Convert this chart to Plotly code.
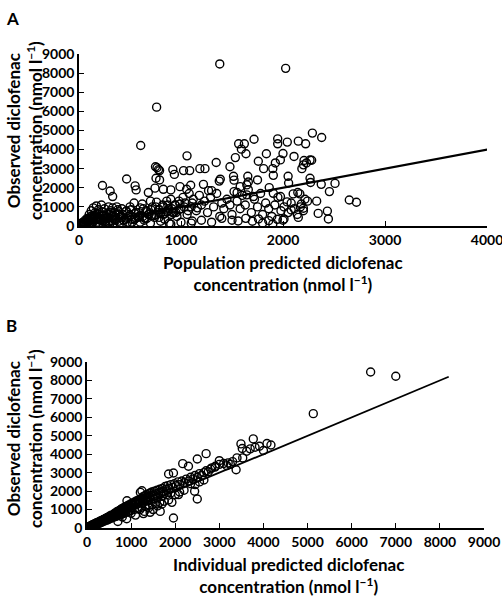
import plotly.graph_objects as go

# ---------------- Panel A: population predicted vs observed ----------------
pop_pred = [
    1380, 2026, 761, 605, 2288, 2379, 1948, 1716, 1948, 2042, 2150, 2222, 1565, 1621,
    1592, 1637, 1059, 1837, 2000, 2108, 1533, 1758, 1974, 1925, 1345, 2281, 2206,
    750, 765, 780, 755, 790, 920, 935, 1025, 1085, 1185, 1235, 1375, 1385, 1480,
    1515, 1520, 1655, 1660, 1645, 1810, 1900, 1905, 2050, 2055, 2185, 2200, 2230,
    2265, 2265, 2270, 2375, 2455, 2510, 2650, 2720, 2330, 2345, 2435, 2445, 2150,
    2080, 2010, 1945, 1760, 1860, 1560, 1635, 1110, 885, 790, 467, 230, 305, 330,
    550, 560, 680, 745, 827, 900, 990, 1055, 1095, 1220, 1270, 1300, 1580, 1550,
    1645, 1710, 1750, 1865, 1905, 1975, 2040, 2100, 2145, 2165, 2215, 2180, 2200,
    20, 30, 40, 50, 60, 70, 80, 90, 100, 110, 120, 130, 140, 150, 160, 170, 180,
    190, 200, 210, 220, 230, 240, 250, 260, 270, 280, 290, 300, 310, 320, 330, 340,
    350, 360, 370, 380, 390, 400, 420, 440, 460, 480, 500, 520, 540, 560, 580, 600,
    620, 640, 660, 680, 700, 720, 740, 760, 780, 800, 820, 840, 860, 880, 900, 920,
    940, 960, 980, 1000, 1020, 1040, 1060, 1080, 1100, 1120, 1150, 1180, 1200, 1230,
    1260, 1290, 1320, 1350, 1380, 1400, 1420, 1450, 1480, 1500, 1520, 1550, 1580,
    1600, 1630, 1660, 1690, 1720, 1750, 1780, 1800, 1830, 1860, 1890, 1920, 1950,
    1980, 2010, 2050, 2080, 2110, 2140, 2170, 2200, 2240,
    100, 200, 300, 400, 500, 600, 700, 800, 900, 1000, 1100, 1200, 1300, 1400, 1500,
    1700, 1800, 1900, 2000,
    60, 90, 130, 160, 190, 230, 260, 290, 330, 360, 390, 430, 470, 510, 550, 590,
    630, 670, 710, 750, 790, 830, 870, 910, 950, 990, 1030, 1070, 1110, 1160,
    45, 85, 115, 145, 175, 205, 245, 275, 315, 345, 385, 425, 465, 505, 545, 585,
    625, 665, 705, 745, 785, 825, 865, 905, 945,
    35, 55, 75, 95, 125, 155, 185, 215, 250, 285, 320, 355, 395, 435, 475, 515,
    555, 600, 645, 690, 735, 780, 830, 880, 930, 980,
]
obs_a = [
    8480, 8250, 6220, 4210, 4860, 4630, 4560, 4540, 4300, 4390, 4440, 4300, 4300, 4300,
    4020, 3780, 3670, 3780, 3790, 3640, 3580, 3390, 3460, 3300, 3320, 3440, 3430,
    3100, 3050, 2950, 2500, 2900, 2950, 2700, 2900, 2900, 3000, 3000, 2350, 2450, 3100,
    2600, 2400, 2600, 2300, 2150, 3000, 3000, 2650, 2600, 2250, 3000, 3200, 3300,
    3450, 2500, 2280, 2180, 1800, 2230, 1360, 1240, 1300, 660, 780, 370, 450,
    840, 370, 350, 370, 280, 260, 400, 260, 140, 2410, 2460, 2120, 1830, 1540,
    2100, 1890, 1750, 1980, 1920, 1890, 2060, 1920, 2130, 2180, 1850, 1850, 2060, 1750,
    1630, 1540, 2410, 2010, 1710, 1540, 1260, 1680, 1750, 1680, 1400, 1150, 930,
    150, 80, 200, 50, 300, 120, 400, 250, 600, 180, 800, 350, 950, 500, 700, 1050, 200,
    850, 600, 400, 1100, 750, 300, 900, 150, 650, 450, 1000, 250, 800, 550, 950, 150,
    700, 400, 1000, 850, 250, 600, 900, 300, 750, 500, 1000, 200, 1200, 700, 450, 950,
    1150, 300, 800, 600, 1300, 1000, 450, 1250, 850, 650, 1100, 350, 1300, 900, 1400, 700,
    1100, 500, 1300, 900, 1500, 1200, 600, 1700, 1000, 1400, 800, 1600, 1100, 1300,
    700, 1500, 1000, 1700, 500, 1200, 900, 1400, 1100, 600, 1800, 1300, 900,
    1600, 1100, 1900, 700, 1400, 1000, 1700, 600, 1200, 900, 500, 1100, 1500,
    800, 1000, 700, 1200, 900, 600, 1000, 800, 1300,
    50, 100, 80, 150, 100, 200, 150, 250, 100, 200, 150, 300, 200, 400, 300,
    250, 150, 100, 300,
    100, 300, 200, 450, 350, 550, 250, 700, 500, 300, 750, 600, 400, 850, 650, 500,
    900, 750, 550, 1000, 850, 650, 1100, 900, 700, 1150, 1000, 800, 1200, 950,
    30, 200, 500, 250, 650, 300, 550, 400, 700, 350, 600, 450, 800, 550, 350, 700,
    500, 400, 850, 600, 450, 1000, 750, 600, 1100,
    60, 150, 250, 350, 450, 550, 400, 300, 200, 150, 250, 350, 450, 300, 200, 350,
    450, 550, 400, 650, 550, 700, 600, 800, 700, 850,
]

# ---------------- Panel B: individual predicted vs observed ----------------
ind_pred = [
    6430, 7000, 5130, 3770, 3490, 3520, 3620, 3700, 3810, 3910, 4000, 4080, 4170,
    3400, 3530, 2700, 2500, 2300, 2170, 1850, 1960, 3000, 3200, 3170, 3380, 2830, 2910,
    2500, 2440, 1960, 1925, 1660, 1430, 1280, 2075, 1210, 1245, 906,
    10, 30, 50, 70, 90, 110, 130, 150, 170, 190, 210, 230, 250, 270, 290, 310, 330,
    350, 370, 390, 410, 430, 450, 470, 490, 510, 530, 550, 570, 590, 610, 630, 650,
    670, 690, 710, 730, 750, 770, 790, 810, 830, 850, 870, 890, 910, 930, 950, 970,
    990, 1010, 1030, 1050, 1070, 1090, 1110, 1130, 1150, 1170, 1190, 1210, 1230, 1250,
    1270, 1290, 1310, 1330, 1350, 1370, 1390, 1410, 1430, 1450, 1470, 1500, 1530, 1560,
    1590, 1620, 1650, 1680, 1710, 1740, 1770, 1800, 1830, 1860, 1900, 1940, 1980, 2020,
    2060, 2100, 2150, 2200, 2250, 2300, 2350, 2400, 2450, 2500, 2550, 2600, 2650, 2700,
    2750, 2800, 2900, 3000, 3100, 3250, 3300,
    700, 900, 1100, 1300, 1500, 800, 1000, 1200, 1400, 1600, 1700,
    20, 40, 60, 80, 100, 120, 140, 160, 180, 200, 220, 240, 260, 280, 300, 320, 340,
    360, 380, 400, 420, 440, 460, 480, 500, 520, 540, 560, 580, 600, 620, 640, 660,
    680, 700, 720, 740, 760, 780, 800, 820, 840, 860, 880, 900, 920, 940, 960, 980,
    1000, 1040, 1080, 1120, 1160, 1200, 1240, 1280, 1320, 1360, 1400, 1440, 1480,
    1520, 1560, 1600, 1650, 1700, 1750, 1800, 1850, 1900, 2000, 2100, 2200, 2350,
    2450, 2550, 2650,
]
obs_b = [
    8460, 8230, 6200, 4830, 4560, 4310, 4160, 4290, 4380, 4430, 4200, 4580, 4500,
    3800, 3800, 4030, 3740, 3350, 3490, 2930, 2980, 3650, 3530, 3380, 3160, 3260, 3350,
    1570, 1990, 540, 1390, 900, 850, 780, 1810, 1930, 2020, 1480,
    20, 50, 80, 60, 130, 100, 180, 120, 220, 200, 260, 210, 300, 330, 280, 380, 340,
    420, 450, 400, 500, 480, 560, 520, 600, 640, 580, 700, 680, 620, 760, 800, 700,
    850, 900, 780, 950, 880, 1000, 1050, 920, 1100, 1000, 1150, 1080, 1200, 1050, 1250, 1180,
    1300, 1100, 1350, 1250, 1400, 1300, 1450, 1350, 1500, 1400, 1550, 1450, 1600, 1500,
    1700, 1550, 1750, 1600, 1800, 1650, 1850, 1700, 1900, 1750, 1950, 1800, 2000, 1850,
    2050, 1900, 2100, 1950, 2150, 2000, 2250, 2100, 2300, 2150, 2350, 2200, 2400, 2300,
    2500, 2350, 2550, 2450, 2650, 2550, 2750, 2650, 2850, 2750, 2950, 2850, 3000, 3100,
    3050, 3200, 3300, 3450, 3500, 3450, 3600,
    350, 500, 700, 900, 1000, 600, 800, 1000, 1100, 1200, 1300,
    40, 30, 90, 70, 140, 110, 190, 150, 230, 180, 290, 240, 310, 260, 370, 300, 410,
    340, 460, 390, 490, 430, 540, 450, 590, 510, 640, 540, 680, 580, 720, 620, 760,
    650, 810, 690, 850, 720, 900, 760, 950, 800, 1000, 840, 1050, 880, 1100, 910, 1160,
    950, 1220, 1010, 1280, 1060, 1340, 1120, 1400, 1170, 1460, 1220, 1520, 1270,
    1580, 1330, 1650, 1380, 1720, 1450, 1800, 1520, 1900, 1800, 1950, 2050, 2400,
    2350, 2500, 2600,
]

# tick labels
ticks_a_x = [0, 1000, 2000, 3000, 4000]
ticks_9000 = [0, 1000, 2000, 3000, 4000, 5000, 6000, 7000, 8000, 9000]

# identity lines
line_a_x = [0, 4050]
line_b_x = [0, 8200]

FONT = "Lato, 'Open Sans', sans-serif"

fig = go.Figure()

mk = dict(symbol="circle-open", size=8, color="black", line=dict(width=1.4, color="black"))

fig.add_trace(go.Scatter(x=pop_pred, y=obs_a, mode="markers", marker=mk,
                         xaxis="x", yaxis="y", showlegend=False, hoverinfo="skip"))
fig.add_trace(go.Scatter(x=line_a_x, y=line_a_x, mode="lines",
                         line=dict(color="black", width=2.2),
                         xaxis="x", yaxis="y", showlegend=False, hoverinfo="skip"))
fig.add_trace(go.Scatter(x=ind_pred, y=obs_b, mode="markers", marker=mk,
                         xaxis="x2", yaxis="y2", showlegend=False, hoverinfo="skip"))
fig.add_trace(go.Scatter(x=line_b_x, y=line_b_x, mode="lines",
                         line=dict(color="black", width=1.8),
                         xaxis="x2", yaxis="y2", showlegend=False, hoverinfo="skip"))

W, H = 502, 597

def px_x(p):
    return p / W

def px_y(p):
    return 1 - p / H

def bold(vals):
    return ["<b>%d</b>" % v for v in vals]

tickfont = dict(family=FONT, size=14, color="black")
common = dict(showgrid=False, zeroline=False, showline=True, linecolor="black",
              linewidth=1.5, ticks="inside", ticklen=5, tickcolor="black",
              tickwidth=1.2, tickfont=tickfont, automargin=False, fixedrange=True,
              ticklabeloverflow="allow")

fig.update_layout(
    template="none",
    width=W, height=H,
    margin=dict(l=0, r=0, t=0, b=0, pad=0),
    paper_bgcolor="white", plot_bgcolor="white",
    xaxis=dict(domain=[px_x(79), px_x(487)], range=[0, 4000], tickvals=ticks_a_x,
               ticktext=bold(ticks_a_x), anchor="y", **common),
    yaxis=dict(domain=[px_y(226), px_y(54)], range=[0, 9000],
               tickvals=ticks_9000, ticktext=bold(ticks_9000), anchor="x", **common),
    xaxis2=dict(domain=[px_x(87), px_x(484)], range=[0, 9000],
                tickvals=ticks_9000, ticktext=bold(ticks_9000), anchor="y2", **common),
    yaxis2=dict(domain=[px_y(528), px_y(362)], range=[0, 9000],
                tickvals=ticks_9000, ticktext=bold(ticks_9000), anchor="x2", **common),
)

tfont = dict(family=FONT, size=17, color="black")
ann = [
    dict(text="<b>A</b>", x=px_x(4), y=px_y(6), xanchor="left", yanchor="top",
         font=dict(family=FONT, size=17, color="black")),
    dict(text="<b>B</b>", x=px_x(4), y=px_y(313), xanchor="left", yanchor="top",
         font=dict(family=FONT, size=17, color="black")),
    dict(text="<b>Population predicted diclofenac<br>concentration (nmol l<sup>−1</sup>)</b>",
         x=px_x(283), y=px_y(273), xanchor="center", yanchor="middle", font=tfont),
    dict(text="<b>Observed diclofenac<br>concentration (nmol l<sup>−1</sup>)</b>",
         x=px_x(24), y=px_y(131), xanchor="center", yanchor="middle", textangle=-90,
         font=tfont),
    dict(text="<b>Individual predicted diclofenac<br>concentration (nmol l<sup>−1</sup>)</b>",
         x=px_x(288), y=px_y(575), xanchor="center", yanchor="middle", font=tfont),
    dict(text="<b>Observed diclofenac<br>concentration (nmol l<sup>−1</sup>)</b>",
         x=px_x(24), y=px_y(439), xanchor="center", yanchor="middle", textangle=-90,
         font=tfont),
]
for a in ann:
    a.update(xref="paper", yref="paper", showarrow=False)
fig.update_layout(annotations=ann)

fig.write_html("out.html", config={"displayModeBar": False},
               post_script="document.body.style.margin='0';document.body.style.overflow='hidden';")
